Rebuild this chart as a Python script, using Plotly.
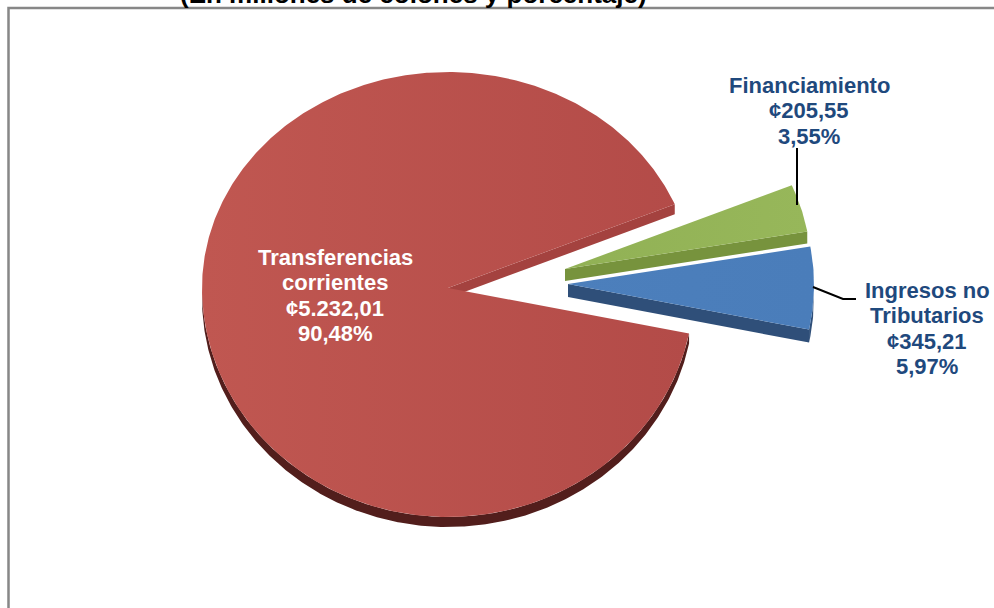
import numpy as np
import plotly.graph_objects as go

# ---- data -------------------------------------------------------------
categories = ["Transferencias corrientes", "Ingresos no Tributarios", "Financiamiento"]
label_lines = [["Transferencias", "corrientes"], ["Ingresos no", "Tributarios"], ["Financiamiento"]]
amounts = [5232.01, 345.21, 205.55]          # millones de colones
shares = [90.48, 5.97, 3.55]                 # porcentaje
title_text = "(En millones de colones y porcentaje)"

# ---- styling ----------------------------------------------------------
top_colors = [("#C05751", "#B34B48"), ("#4C7FBC", "#4A7DBA"), ("#91B155", "#97B75A")]
side_colors = ["#A4423F", "#2F4F79", "#77933D"]
rim_colors = ["#521E1C", "#2F4F79", "#77933D"]
label_colors = ["#FFFFFF", "#1F497D", "#1F497D"]
label_pos = [(335, 257), (927, 290), (809, 85)]   # centre of first text line
LINE_STEP = 25.5
FONT = "Liberation Sans, Arial, sans-serif"

W, H = 994, 608
CX, CY = 448, 288          # pie centre
RX, RY_UP, RY_DN = 246, 216, 229
DEPTH = [10, 13, 12]
START = 22.8               # angle where the first slice begins (deg, counter-clockwise)
EXPLODE = [(0, 0), (120, -4), (117, -19)]   # per-slice offset of the exploded wedges (px)


def rim(cx, cy, th_deg, drop=0.0):
    th = np.radians(np.asarray(th_deg, dtype=float))
    s = np.sin(th)
    ry = np.where(s >= 0, RY_UP, RY_DN)
    return cx + RX * np.cos(th), cy - ry * s + drop


def poly(xs, ys, color, grad=None):
    kw = dict(x=list(xs), y=list(ys), mode="lines", fill="toself",
              line=dict(width=0), hoverinfo="skip", showlegend=False)
    if grad:
        kw["fillgradient"] = dict(type="horizontal",
                                  colorscale=[[0, grad[0]], [1, grad[1]]])
    else:
        kw["fillcolor"] = color
    return go.Scatter(**kw)


def fmt_es(v, dec=2):
    s = f"{v:,.{dec}f}"
    return s.replace(",", "_").replace(".", ",").replace("_", ".")


total = sum(amounts)
fig = go.Figure()

a0 = START
slices = []
for i, v in enumerate(amounts):
    span = 360.0 * v / total
    slices.append((a0, a0 + span))
    a0 += span

# back slices first, front slice last
for i in [0, 2, 1]:
    s0, s1 = slices[i]
    cx = CX + EXPLODE[i][0]
    cy = CY + EXPLODE[i][1]
    d = DEPTH[i]

    # radial walls facing the viewer
    for ang, visible in ((s0, np.cos(np.radians(s0)) > 0), (s1, np.cos(np.radians(s1)) < 0)):
        if visible:
            ex, ey = rim(cx, cy, ang)
            fig.add_trace(poly([cx, ex, ex, cx], [cy, ey, ey + d, cy + d], side_colors[i]))

    # outer rim on the front half
    for k in range(-1, 3):
        lo, hi = max(s0, 180 + 360 * k), min(s1, 360 + 360 * k)
        if hi > lo:
            th = np.linspace(lo, hi, max(8, int((hi - lo) * 2)))
            tx, ty = rim(cx, cy, th)
            bx, by = rim(cx, cy, th[::-1], d)
            fig.add_trace(poly(np.r_[tx, bx], np.r_[ty, by], rim_colors[i]))

    # top face
    th = np.linspace(s0, s1, max(8, int((s1 - s0) * 2)))
    tx, ty = rim(cx, cy, th)
    fig.add_trace(poly(np.r_[cx, tx, cx], np.r_[cy, ty, cy], None, grad=top_colors[i]))

# ---- labels -----------------------------------------------------------
for i in range(len(categories)):
    lines = label_lines[i] + ["¢" + fmt_es(amounts[i]), fmt_es(shares[i]) + "%"]
    lx, ly = label_pos[i]
    for j, t in enumerate(lines):
        fig.add_annotation(x=lx, y=ly + j * LINE_STEP, xref="x", yref="y", text=t,
                           showarrow=False, xanchor="center", yanchor="middle",
                           font=dict(family=FONT, size=22, color=label_colors[i], weight="bold"))

# leader lines
fig.add_shape(type="line", x0=797, y0=148, x1=797, y1=205, xref="x", yref="y",
              line=dict(color="#000000", width=2))
fig.add_shape(type="path", path="M 813 287 L 843 299 L 856 299", xref="x", yref="y",
              line=dict(color="#000000", width=2))

# chart frame
fig.add_shape(type="rect", x0=8.5, y0=8, x1=1100, y1=800, xref="x", yref="y",
              line=dict(color="#878787", width=2.5), fillcolor="rgba(0,0,0,0)", layer="below")

# title (its upper part lies above the page)
fig.add_annotation(x=413 / W, y=1 + 6 / H, xref="paper", yref="paper", text=title_text,
                   showarrow=False, xanchor="center", yanchor="middle",
                   font=dict(family=FONT, size=26, color="#000000", weight="bold"))

fig.update_layout(
    width=W, height=H, margin=dict(l=0, r=0, t=0, b=0),
    paper_bgcolor="white", plot_bgcolor="white",
    xaxis=dict(range=[0, W], visible=False, fixedrange=True),
    yaxis=dict(range=[H, 0], visible=False, fixedrange=True),
)

fig.write_html("out.html")
